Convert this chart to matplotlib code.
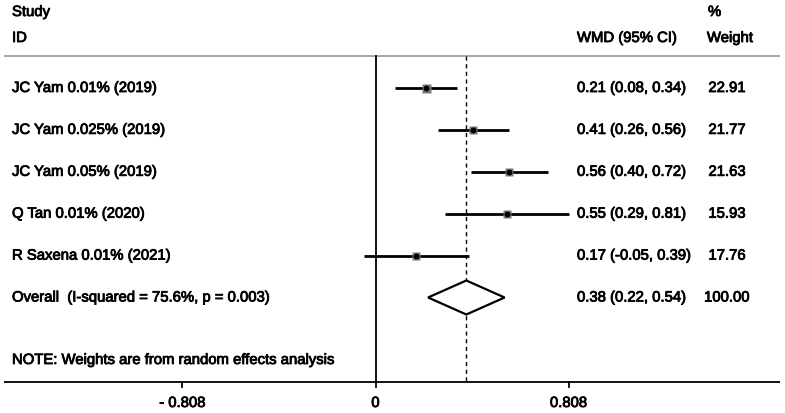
import matplotlib
matplotlib.use("Agg")
import matplotlib.pyplot as plt
from matplotlib.patches import Polygon
import matplotlib.patheffects as pe
import numpy as np

plt.rcParams['font.family'] = ['Liberation Sans', 'DejaVu Sans']

studies = ["JC Yam 0.01% (2019)", "JC Yam 0.025% (2019)", "JC Yam 0.05% (2019)",
           "Q Tan 0.01% (2020)", "R Saxena 0.01% (2021)"]
wmd = [0.21, 0.41, 0.56, 0.55, 0.17]
lo = [0.08, 0.26, 0.40, 0.29, -0.05]
hi = [0.34, 0.56, 0.72, 0.81, 0.39]
weights = [22.91, 21.77, 21.63, 15.93, 17.76]
overall_label = "Overall  (I-squared = 75.6%, p = 0.003)"
overall = 0.38
overall_lo = 0.22
overall_hi = 0.54
overall_weight = 100.00
xticks = [-0.808, 0, 0.808]
xticklabels = ["- 0.808", "0", "0.808"]
note = "NOTE: Weights are from random effects analysis"

W, H = 785, 413
fig = plt.figure(figsize=(W / 100, H / 100), dpi=100)
ax = fig.add_axes([0, 0, 1, 1])
ax.set_axis_off()

# pixel mapping
x0_px, ppu = 375.5, 239.0
row0_px, row_step = 88.0, 41.9
ax.set_xlim((0 - x0_px) / ppu, (W - x0_px) / ppu)
ax.set_ylim((H - row0_px) / row_step, (0 - row0_px) / row_step)

def px2x(px):
    return (px - x0_px) / ppu

def px2y(py):
    return (py - row0_px) / row_step

fs = 10.7
stroke = [pe.withStroke(linewidth=0.6, foreground='black')]
tkw = dict(fontsize=fs, va='center', color='black', path_effects=stroke)

top_y = px2y(56)
axis_y = px2y(382)

# header lines
ax.plot([px2x(4), px2x(780)], [top_y, top_y], color='#a0a0a0', lw=1.3, solid_capstyle='butt')
ax.plot([px2x(4), px2x(780)], [axis_y, axis_y], color='black', lw=1.3, solid_capstyle='butt')

# zero line & overall dashed line
ax.plot([0, 0], [top_y, axis_y], color='black', lw=1.3)
ax.plot([overall, overall], [top_y, axis_y], color='black', lw=1.0, ls=(0, (3, 2.5)))

# ticks
for t, lab in zip(xticks, xticklabels):
    ax.plot([t, t], [axis_y, axis_y + 5 / row_step], color='black', lw=1.3)
    ax.text(t, px2y(403), lab, ha='center', **tkw)

# headers
lx = px2x(12)
wx = px2x(577)
gx = px2x(727)
ax.text(lx, px2y(12), "Study", ha='left', **tkw)
ax.text(lx, px2y(38), "ID", ha='left', **tkw)
ax.text(wx, px2y(38), "WMD (95% CI)", ha='left', **tkw)
ax.text(px2x(708), px2y(12), "%", ha='left', **tkw)
ax.text(gx + 3 / ppu, px2y(38), "Weight", ha='center', **tkw)

# study rows
for i, (s, m, l, h, w) in enumerate(zip(studies, wmd, lo, hi, weights)):
    ax.plot([l, h], [i, i], color='black', lw=2.0, solid_capstyle='butt', zorder=2)
    side_px = 9.0 * np.sqrt(w / max(weights))
    ax.plot([m], [i], marker='s', markersize=side_px * 0.72, color='#7a7a7a', mec='none', zorder=3)
    ax.plot([m], [i], marker='o', markersize=4.3, color='black', mec='none', zorder=4)
    ax.text(lx, i, s, ha='left', **tkw)
    ax.text(wx, i, f"{m:.2f} ({l:.2f}, {h:.2f})", ha='left', **tkw)
    ax.text(gx, i, f"{w:.2f}", ha='center', **tkw)

# overall
oy = len(studies)
dh = 17 / row_step
diamond = Polygon([[overall_lo, oy], [overall, oy - dh], [overall_hi, oy], [overall, oy + dh]],
                  closed=True, facecolor='white', edgecolor='black', lw=1.6, zorder=3)
ax.add_patch(diamond)
ax.text(lx, oy, overall_label, ha='left', **tkw)
ax.text(wx, oy, f"{overall:.2f} ({overall_lo:.2f}, {overall_hi:.2f})", ha='left', **tkw)
ax.text(gx, oy, f"{overall_weight:.2f}", ha='center', **tkw)

ax.text(lx, px2y(360), note, ha='left', **tkw)

fig.savefig("out.png", dpi=100)
